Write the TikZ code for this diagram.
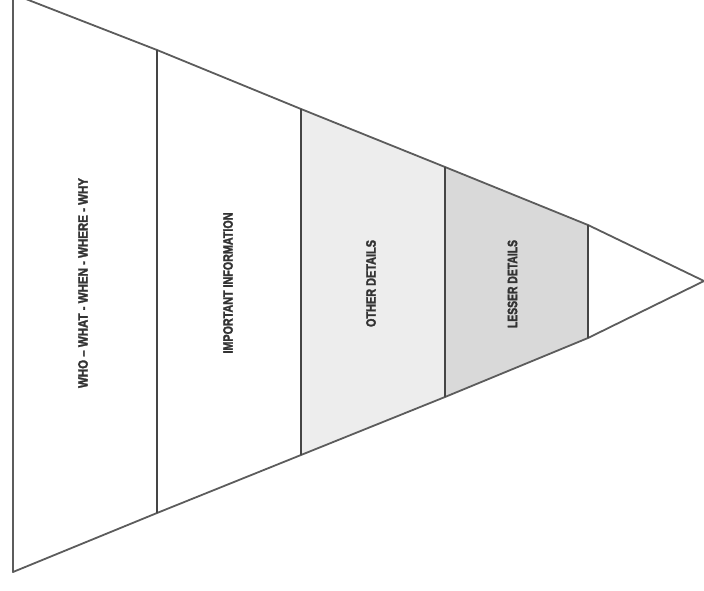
\documentclass[tikz,border=0pt]{standalone}
\usepackage{fontspec}
\setmainfont{Liberation Sans}
\newfontfamily\lblfont{Liberation Sans}[FakeBold=2.2]
\usepackage{graphicx}
\definecolor{edge}{HTML}{5C5C5C}
\definecolor{divider}{HTML}{454545}
\definecolor{lightfill}{HTML}{EDEDED}
\definecolor{midfill}{HTML}{D9D9D9}
\definecolor{txt}{HTML}{333333}
\tikzset{
  outline/.style={draw=edge, line width=1.8pt, line join=round},
  divline/.style={draw=divider, line width=2.8pt},
  label/.style={inner sep=0pt, text=txt, rotate=90, font=\lblfont\bfseries},
}
\newcommand{\lbl}[2]{\resizebox{#1}{9.5pt}{#2}}
\begin{document}
\begin{tikzpicture}[x=1pt,y=-1pt]
\useasboundingbox (0,0) rectangle (704,591);
% corner points
\coordinate (t0) at (13,-6);
\coordinate (t1) at (157,50);
\coordinate (t2) at (301,109);
\coordinate (t3) at (445,167);
\coordinate (t4) at (588,225);
\coordinate (apex) at (704,281);
\coordinate (b4) at (588,338);
\coordinate (b3) at (445,397);
\coordinate (b2) at (301,455);
\coordinate (b1) at (157,513);
\coordinate (b0) at (13,572);
% fills
\fill[lightfill] (t2) -- (t3) -- (b3) -- (b2) -- cycle;
\fill[midfill] (t3) -- (t4) -- (b4) -- (b3) -- cycle;
% outline
\draw[outline] (t0) -- (t1) -- (t2) -- (t3) -- (t4) -- (apex) -- (b4) -- (b3) -- (b2) -- (b1) -- (b0) -- cycle;
% dividers
\draw[divline] (t1) -- (b1);
\draw[divline] (t2) -- (b2);
\draw[divline] (t3) -- (b3);
\draw[divline] (t4) -- (b4);
% labels
\node[label] (who) at (83,283) {\lbl{210pt}{WHO – WHAT - WHEN - WHERE - WHY}};
\node[label] (imp) at (228,283) {\lbl{141pt}{IMPORTANT INFORMATION}};
\node[label] (oth) at (371,283.5) {\lbl{87pt}{OTHER DETAILS}};
\node[label] (les) at (512.5,284) {\lbl{88pt}{LESSER DETAILS}};
\end{tikzpicture}
\end{document}
